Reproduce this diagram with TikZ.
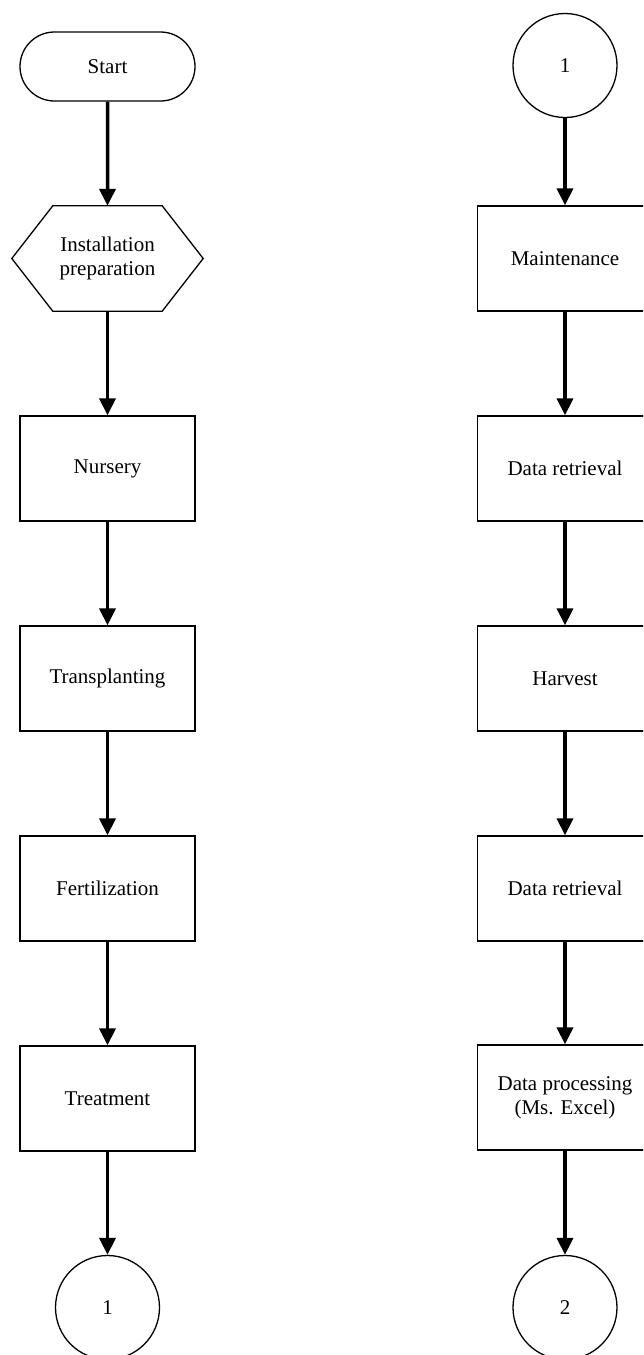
\documentclass[tikz,border=0pt]{standalone}
\usepackage{fontspec}
\setmainfont{Liberation Serif}
\usetikzlibrary{arrows.meta,shapes.misc}
\begin{document}
\begin{tikzpicture}[x=1pt,y=-1pt,
  txt/.style={align=center,inner sep=0pt,font=\fontsize{21}{24}\selectfont},
  box/.style={txt,draw,line width=1.3pt,minimum width=175pt,minimum height=105pt},
  term/.style={txt,draw,line width=1.3pt,rounded rectangle,minimum width=175pt,minimum height=69pt},
  hexa/.style={txt,minimum width=191pt,minimum height=105pt},
  conn/.style={txt,draw,line width=1.3pt,circle,minimum size=104pt},
  arr/.style={line width=3.5pt,-{Triangle[length=17pt,width=16pt]}}]
\clip (0,0) rectangle (643,1355);
\fill[white] (0,0) rectangle (643,1355);
% left column
\node[term] (start) at (107.5,66.5) {Start};
\node[hexa] (hex) at (107.5,258.5) {Installation\\preparation};
\draw[line width=1.3pt] (hex.west) -- ([xshift=41pt]hex.north west) -- ([xshift=-41pt]hex.north east) -- (hex.east) -- ([xshift=-41pt]hex.south east) -- ([xshift=41pt]hex.south west) -- cycle;
\node[box] (nur) at (107.5,468.5) {Nursery};
\node[box] (tra) at (107.5,678.5) {Transplanting};
\node[box] (fer) at (107.5,888.5) {Fertilization};
\node[box] (tre) at (107.5,1098.5) {Treatment};
\node[conn] (c1) at (107.5,1307.5) {1};
\draw[arr] (start) -- (hex);
\draw[arr] (hex) -- (nur);
\draw[arr] (nur) -- (tra);
\draw[arr] (tra) -- (fer);
\draw[arr] (fer) -- (tre);
\draw[arr] (tre) -- (c1);
% right column
\node[conn] (r1) at (565,65.5) {1};
\node[box] (mai) at (565,258.5) {Maintenance};
\node[box] (dr1) at (565,468.5) {Data retrieval};
\node[box] (har) at (565,678.5) {Harvest};
\node[box] (dr2) at (565,888.5) {Data retrieval};
\node[box] (dpr) at (565,1097.5) {Data processing\\(Ms. Excel)};
\node[conn] (c2) at (565,1307.5) {2};
\draw[arr] (r1) -- (mai);
\draw[arr] (mai) -- (dr1);
\draw[arr] (dr1) -- (har);
\draw[arr] (har) -- (dr2);
\draw[arr] (dr2) -- (dpr);
\draw[arr] (dpr) -- (c2);
\end{tikzpicture}
\end{document}
